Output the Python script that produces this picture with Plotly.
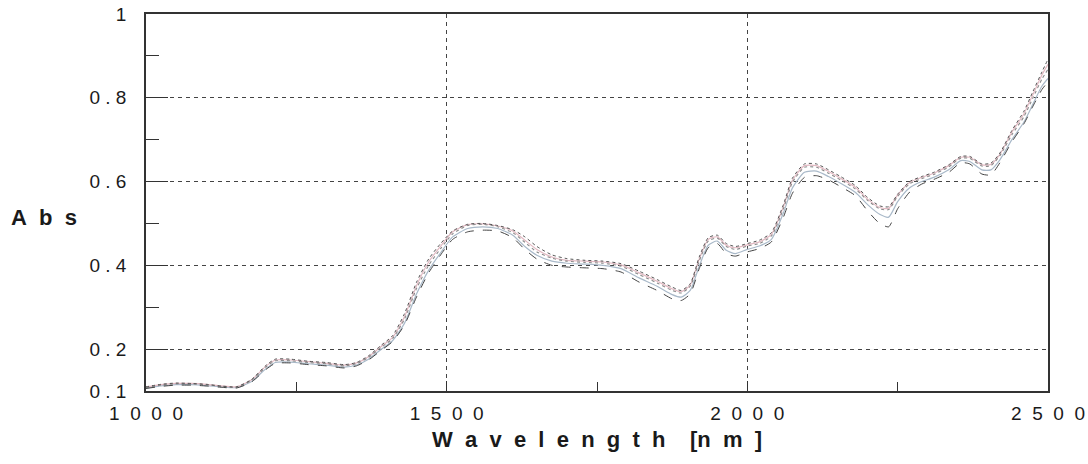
import plotly.graph_objects as go

# Wavelength grid (nm) shared by all spectra
wavelength = [1000, 1025, 1050, 1075, 1100, 1125, 1150, 1175, 1200, 1215,
              1240, 1270, 1300, 1330, 1350, 1370, 1390, 1410, 1430, 1450,
              1470, 1490, 1510, 1535, 1560, 1585, 1610, 1630, 1650, 1675,
              1700, 1730, 1760, 1790, 1820, 1850, 1875, 1890, 1905, 1920,
              1935, 1950, 1965, 1980, 2000, 2020, 2040, 2060, 2075, 2095,
              2115, 2135, 2155, 2180, 2200, 2220, 2235, 2250, 2270, 2290,
              2310, 2335, 2355, 2370, 2390, 2405, 2420, 2440, 2460, 2475,
              2490, 2500]

# Absorbance spectra of the individual samples
spec_a = [0.108, 0.114, 0.117, 0.117, 0.115, 0.111, 0.109, 0.125, 0.158, 0.172,
          0.172, 0.168, 0.165, 0.160, 0.165, 0.180, 0.203, 0.225, 0.272, 0.345,
          0.400, 0.440, 0.475, 0.495, 0.498, 0.492, 0.478, 0.455, 0.432, 0.417,
          0.410, 0.407, 0.405, 0.398, 0.378, 0.358, 0.340, 0.334, 0.350, 0.410,
          0.458, 0.465, 0.445, 0.438, 0.446, 0.452, 0.470, 0.535, 0.598, 0.634,
          0.634, 0.620, 0.604, 0.582, 0.555, 0.535, 0.533, 0.565, 0.595, 0.607,
          0.617, 0.635, 0.656, 0.655, 0.637, 0.638, 0.662, 0.712, 0.755, 0.800,
          0.845, 0.868]
spec_b = [0.110, 0.116, 0.119, 0.118, 0.116, 0.112, 0.110, 0.127, 0.162, 0.176,
          0.176, 0.171, 0.168, 0.163, 0.168, 0.184, 0.208, 0.232, 0.285, 0.360,
          0.415, 0.452, 0.482, 0.498, 0.500, 0.495, 0.485, 0.468, 0.445, 0.425,
          0.416, 0.412, 0.410, 0.404, 0.386, 0.366, 0.348, 0.340, 0.356, 0.420,
          0.466, 0.472, 0.452, 0.445, 0.452, 0.460, 0.478, 0.545, 0.608, 0.642,
          0.642, 0.628, 0.612, 0.590, 0.562, 0.542, 0.540, 0.570, 0.600, 0.612,
          0.622, 0.640, 0.660, 0.660, 0.642, 0.644, 0.668, 0.722, 0.768, 0.815,
          0.862, 0.892]
spec_c = [0.107, 0.112, 0.115, 0.115, 0.113, 0.110, 0.108, 0.122, 0.154, 0.168,
          0.169, 0.165, 0.162, 0.157, 0.162, 0.176, 0.198, 0.220, 0.262, 0.332,
          0.388, 0.430, 0.468, 0.488, 0.492, 0.488, 0.472, 0.445, 0.424, 0.410,
          0.405, 0.403, 0.400, 0.392, 0.370, 0.350, 0.330, 0.324, 0.340, 0.398,
          0.448, 0.458, 0.436, 0.428, 0.438, 0.446, 0.462, 0.525, 0.585, 0.622,
          0.625, 0.612, 0.596, 0.574, 0.545, 0.522, 0.515, 0.552, 0.585, 0.600,
          0.610, 0.628, 0.650, 0.648, 0.628, 0.628, 0.652, 0.700, 0.742, 0.785,
          0.828, 0.846]
spec_d = [0.106, 0.111, 0.114, 0.114, 0.112, 0.109, 0.107, 0.121, 0.152, 0.166,
          0.167, 0.163, 0.160, 0.155, 0.160, 0.174, 0.196, 0.218, 0.258, 0.325,
          0.382, 0.425, 0.462, 0.480, 0.484, 0.482, 0.466, 0.438, 0.415, 0.400,
          0.396, 0.394, 0.392, 0.384, 0.360, 0.340, 0.320, 0.316, 0.332, 0.392,
          0.442, 0.452, 0.428, 0.422, 0.432, 0.440, 0.456, 0.515, 0.572, 0.610,
          0.614, 0.604, 0.588, 0.566, 0.530, 0.500, 0.492, 0.535, 0.575, 0.594,
          0.605, 0.622, 0.645, 0.642, 0.618, 0.616, 0.645, 0.695, 0.738, 0.780,
          0.820, 0.838]
spec_e = [0.109, 0.115, 0.118, 0.118, 0.116, 0.112, 0.110, 0.126, 0.160, 0.174,
          0.174, 0.170, 0.166, 0.162, 0.167, 0.182, 0.205, 0.228, 0.278, 0.352,
          0.408, 0.446, 0.480, 0.497, 0.499, 0.494, 0.482, 0.460, 0.438, 0.420,
          0.412, 0.410, 0.408, 0.401, 0.382, 0.362, 0.344, 0.337, 0.353, 0.415,
          0.462, 0.468, 0.448, 0.442, 0.449, 0.456, 0.474, 0.540, 0.603, 0.638,
          0.638, 0.624, 0.608, 0.586, 0.558, 0.538, 0.536, 0.568, 0.598, 0.610,
          0.620, 0.638, 0.658, 0.658, 0.640, 0.641, 0.665, 0.718, 0.762, 0.808,
          0.855, 0.880]

# Axis ticks
x_ticks = [1000, 1500, 2000, 2500]
x_tick_text = ["1\u00a0\u00a00\u00a0\u00a00\u00a0\u00a00",
               "1\u00a0\u00a05\u00a0\u00a00\u00a0\u00a00",
               "2\u00a0\u00a00\u00a0\u00a00\u00a0\u00a00",
               "2\u00a0\u00a05\u00a0\u00a00\u00a0\u00a00"]
x_minor = [1250, 1750, 2250]
y_ticks = [0.1, 0.2, 0.4, 0.6, 0.8, 1.0]
y_tick_text = ["0\u00a0.\u00a01", "0\u00a0.\u00a02", "0\u00a0.\u00a04",
               "0\u00a0.\u00a06", "0\u00a0.\u00a08", "1"]
y_minor = [0.3, 0.5, 0.7, 0.9]

series = [
    (spec_c, "#a9b9c9", 1.2, "solid"),
    (spec_e, "#e2b9c2", 1.2, "solid"),
    (spec_a, "#8a8a8a", 1.1, "dot"),
    (spec_b, "#555555", 1.0, "dot"),
    (spec_d, "#444444", 1.0, "dash"),
]

fig = go.Figure()
for ys, color, width, dash in series:
    fig.add_trace(go.Scatter(
        x=wavelength, y=ys, mode="lines",
        line=dict(color=color, width=width, dash=dash, shape="spline", smoothing=0.6),
        showlegend=False, hoverinfo="skip",
    ))

font_main = "Liberation Sans, Arial, sans-serif"

fig.update_layout(
    width=1088, height=464,
    margin=dict(l=146, r=40, t=14, b=73, autoexpand=False),
    paper_bgcolor="white", plot_bgcolor="white",
    font=dict(family=font_main, size=19, color="#1a1a1a"),
    xaxis=dict(
        range=[1000, 2500], tickvals=x_ticks, ticktext=x_tick_text,
        ticks="inside", ticklen=10, tickwidth=1.2, tickcolor="#333333",
        showline=True, linecolor="#333333", linewidth=1.5, mirror=True,
        showgrid=True, gridcolor="#444444", gridwidth=1, griddash="4px,4px",
        zeroline=False, ticklabelstandoff=4, automargin=False,
        minor=dict(tickvals=x_minor, ticks="inside", ticklen=9,
                   tickcolor="#333333", tickwidth=1.2, showgrid=False),
    ),
    yaxis=dict(
        range=[0.1, 1.0], tickvals=y_ticks, ticktext=y_tick_text,
        ticks="inside", ticklen=22, tickwidth=1.2, tickcolor="#333333",
        showline=True, linecolor="#333333", linewidth=1.5, mirror=True,
        showgrid=True, gridcolor="#444444", gridwidth=1, griddash="4px,4px",
        zeroline=False, ticklabelstandoff=14, automargin=False,
        minor=dict(tickvals=y_minor, ticks="inside", ticklen=13,
                   tickcolor="#333333", tickwidth=1.2, showgrid=False),
    ),
    annotations=[
        dict(text="<b>W\u00a0 a\u00a0 v\u00a0 e\u00a0 l\u00a0 e\u00a0 n\u00a0 g\u00a0 t\u00a0 h\u00a0\u00a0\u00a0 [n\u00a0 m\u00a0 ]</b>",
             xref="paper", yref="paper", x=0.5, y=-0.128,
             xanchor="center", yanchor="middle", showarrow=False,
             font=dict(family=font_main, size=22, color="#1a1a1a")),
        dict(text="<b>A\u00a0 b\u00a0 s</b>",
             xref="paper", yref="paper", x=-0.152, y=0.46,
             xanchor="left", yanchor="middle", showarrow=False,
             font=dict(family=font_main, size=22, color="#1a1a1a")),
    ],
)

fig.write_html("out.html")
